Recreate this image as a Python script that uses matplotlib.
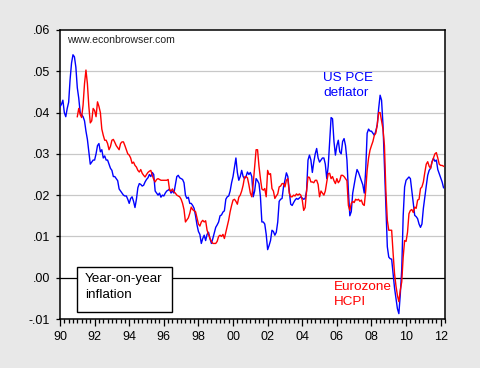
import numpy as np
import matplotlib.pyplot as plt
from matplotlib.patches import Rectangle
from matplotlib.ticker import FixedLocator, FuncFormatter

plt.rcParams['font.family'] = ['Liberation Sans', 'DejaVu Sans']

# US PCE deflator, year-on-year, monthly from Jan 1990
us_pce = [
    0.0414, 0.042, 0.043, 0.040, 0.039, 0.041, 0.0425, 0.048, 0.052, 0.054, 0.0535, 0.051,      # 1990
    0.046, 0.0435, 0.040, 0.0395, 0.039, 0.038, 0.0355, 0.0335, 0.0305, 0.0275, 0.028, 0.0285,  # 1991
    0.0285, 0.030, 0.032, 0.0325, 0.0305, 0.031, 0.029, 0.0295, 0.0285, 0.0285, 0.0275, 0.0265,  # 1992
    0.026, 0.0245, 0.0245, 0.024, 0.0235, 0.0215, 0.021, 0.0205, 0.020, 0.0198, 0.0198, 0.019,   # 1993
    0.018, 0.0192, 0.0196, 0.0185, 0.017, 0.019, 0.0218, 0.0228, 0.0226, 0.0222, 0.0224, 0.0232,  # 1994
    0.0238, 0.0242, 0.025, 0.0245, 0.0255, 0.025, 0.021, 0.0205, 0.020, 0.0205, 0.0195, 0.020,   # 1995
    0.0198, 0.0205, 0.021, 0.0212, 0.0215, 0.0205, 0.021, 0.0205, 0.0225, 0.0245, 0.0248, 0.0242,  # 1996
    0.024, 0.0238, 0.023, 0.020, 0.0192, 0.0195, 0.018, 0.018, 0.0175, 0.0168, 0.015, 0.0128,    # 1997
    0.0112, 0.0105, 0.0083, 0.0095, 0.0103, 0.009, 0.0105, 0.011, 0.0095, 0.0083, 0.0095, 0.0108,  # 1998
    0.0122, 0.0128, 0.0135, 0.015, 0.0152, 0.0159, 0.0162, 0.019, 0.0196, 0.0198, 0.021, 0.023,  # 1999
    0.0245, 0.0268, 0.029, 0.0255, 0.0236, 0.0245, 0.026, 0.0245, 0.024, 0.0245, 0.0256, 0.025,  # 2000
    0.0255, 0.0245, 0.0196, 0.021, 0.024, 0.0235, 0.0228, 0.0196, 0.0135, 0.0135, 0.013, 0.0105,  # 2001
    0.0068, 0.0078, 0.009, 0.0115, 0.0112, 0.0103, 0.011, 0.0135, 0.0185, 0.019, 0.0192, 0.022,  # 2002
    0.0236, 0.0254, 0.0245, 0.021, 0.0178, 0.0175, 0.0182, 0.0188, 0.0192, 0.019, 0.0193, 0.0196,  # 2003
    0.0193, 0.019, 0.0192, 0.021, 0.0285, 0.0297, 0.0285, 0.0255, 0.028, 0.030, 0.0313, 0.029,  # 2004
    0.028, 0.0285, 0.029, 0.029, 0.0275, 0.024, 0.027, 0.033, 0.0388, 0.0385, 0.033, 0.0297,    # 2005
    0.032, 0.0333, 0.0305, 0.030, 0.033, 0.0337, 0.032, 0.0285, 0.021, 0.015, 0.016, 0.0205,    # 2006
    0.0225, 0.0245, 0.0262, 0.0255, 0.0245, 0.0235, 0.0225, 0.0205, 0.026, 0.035, 0.036, 0.0355,  # 2007
    0.0355, 0.035, 0.0345, 0.0355, 0.037, 0.041, 0.0442, 0.043, 0.037, 0.027, 0.0165, 0.0075,   # 2008
    0.005, 0.0046, 0.0045, 0.001, -0.0025, -0.005, -0.0075, -0.0087, -0.004, 0.002, 0.015, 0.022,  # 2009
    0.0236, 0.024, 0.0244, 0.024, 0.021, 0.018, 0.0151, 0.0148, 0.0143, 0.013, 0.0122, 0.013,   # 2010
    0.0168, 0.0196, 0.0222, 0.0248, 0.026, 0.0265, 0.0281, 0.0289, 0.0282, 0.0285, 0.0262, 0.0252,  # 2011
    0.0242, 0.0232, 0.0218,                                                                       # 2012
]

# Eurozone HICP, year-on-year, monthly from Jan 1991
ez_hicp = [
    0.039, 0.041, 0.0395, 0.0388, 0.0418, 0.047, 0.0503, 0.047, 0.0415, 0.0375, 0.038, 0.041,   # 1991
    0.0405, 0.039, 0.0426, 0.0415, 0.040, 0.036, 0.0345, 0.0333, 0.0333, 0.0325, 0.031, 0.0318,  # 1992
    0.0333, 0.0335, 0.0328, 0.032, 0.0315, 0.031, 0.0325, 0.0329, 0.0329, 0.032, 0.031, 0.030,  # 1993
    0.0297, 0.029, 0.0277, 0.028, 0.0272, 0.0268, 0.026, 0.0256, 0.0262, 0.0253, 0.0248, 0.0244,  # 1994
    0.025, 0.0255, 0.0258, 0.026, 0.0248, 0.0238, 0.0232, 0.0238, 0.024, 0.0238, 0.0236, 0.0236,  # 1995
    0.0236, 0.0236, 0.0236, 0.0238, 0.0212, 0.021, 0.0215, 0.0208, 0.0205, 0.020, 0.0198, 0.0196,  # 1996
    0.019, 0.018, 0.0165, 0.0135, 0.014, 0.0145, 0.0156, 0.0171, 0.0165, 0.0162, 0.016, 0.0145,  # 1997
    0.013, 0.0125, 0.0135, 0.0139, 0.0135, 0.0138, 0.0115, 0.0105, 0.0095, 0.0088, 0.0083, 0.0083,  # 1998
    0.0083, 0.0088, 0.010, 0.0103, 0.010, 0.0105, 0.0095, 0.011, 0.0125, 0.014, 0.016, 0.0175,  # 1999
    0.0188, 0.019, 0.0185, 0.0178, 0.0195, 0.020, 0.021, 0.0224, 0.0244, 0.0245, 0.0242, 0.0225,  # 2000
    0.0205, 0.0196, 0.0228, 0.0268, 0.031, 0.031, 0.027, 0.024, 0.0215, 0.0212, 0.0216, 0.0196,  # 2001
    0.026, 0.025, 0.0252, 0.0216, 0.021, 0.0192, 0.0198, 0.0203, 0.022, 0.0222, 0.0228, 0.0228,  # 2002
    0.022, 0.0236, 0.024, 0.0205, 0.0196, 0.0196, 0.020, 0.0198, 0.0203, 0.020, 0.0203, 0.020,  # 2003
    0.0188, 0.0163, 0.017, 0.021, 0.0244, 0.0243, 0.0232, 0.0232, 0.023, 0.0236, 0.0236, 0.0226,  # 2004
    0.0196, 0.021, 0.0205, 0.020, 0.021, 0.0232, 0.0252, 0.0253, 0.024, 0.0245, 0.0235, 0.0228,  # 2005
    0.024, 0.023, 0.0235, 0.0248, 0.0248, 0.0245, 0.024, 0.0235, 0.0175, 0.0163, 0.018, 0.0185,  # 2006
    0.0182, 0.019, 0.0188, 0.019, 0.0185, 0.0188, 0.0178, 0.0175, 0.021, 0.026, 0.029, 0.0309,  # 2007
    0.032, 0.033, 0.0345, 0.035, 0.037, 0.040, 0.040, 0.038, 0.036, 0.032, 0.021, 0.0139,      # 2008
    0.0115, 0.0115, 0.0115, 0.006, 0.001, -0.002, -0.0043, -0.0058, -0.003, -0.001, 0.005, 0.009,  # 2009
    0.0088, 0.011, 0.0155, 0.0163, 0.0165, 0.0158, 0.0171, 0.0168, 0.0188, 0.019, 0.0216, 0.022,  # 2010
    0.0232, 0.0255, 0.0275, 0.0281, 0.027, 0.0265, 0.028, 0.029, 0.030, 0.0303, 0.029, 0.0275,  # 2011
    0.0272, 0.0272, 0.027,                                                                        # 2012
]

y_ticks = [-0.01, 0.0, 0.01, 0.02, 0.03, 0.04, 0.05, 0.06]
year_ticks = list(range(1990, 2013, 2))

t_us = 1990 + np.arange(len(us_pce)) / 12
t_ez = 1991 + np.arange(len(ez_hicp)) / 12

fig = plt.figure(figsize=(4.8, 3.68), dpi=100, facecolor='#e8e8e8')
ax = fig.add_axes([60/480, 49/368, 385/480, 289/368])
ax.set_facecolor('white')

# grid lines
for v in y_ticks[2:-1]:
    ax.axhline(v, color='#c8c8c8', lw=0.9, zorder=1)
ax.axhline(0, color='black', lw=0.9, zorder=2)

ax.plot(t_us, us_pce, color='#0000ff', lw=1.0, zorder=3)
ax.plot(t_ez, ez_hicp, color='#ff0000', lw=1.0, zorder=3)

ax.set_xlim(1990, 2012.25)
ax.set_ylim(-0.01, 0.06)

ax.set_yticks(y_ticks)
ax.yaxis.set_major_formatter(FuncFormatter(lambda v, p: f'{v:.2f}'.replace('0.', '.')))
ax.xaxis.set_major_locator(FixedLocator(year_ticks))
ax.xaxis.set_minor_locator(FixedLocator(np.arange(1990, 2012.3, 0.25)))
ax.xaxis.set_major_formatter(FuncFormatter(lambda v, p: f'{int(round(v)) % 100:02d}'))

ax.tick_params(axis='y', direction='out', length=3, width=0.9, labelsize=9, pad=4)
ax.tick_params(axis='x', which='major', direction='out', length=5, width=0.9, labelsize=9, pad=4)
ax.tick_params(axis='x', which='minor', direction='out', length=3, width=0.9)
for s in ax.spines.values():
    s.set_linewidth(1.1)
    s.set_color('black')

ax.text(0.0174, 0.965, 'www.econbrowser.com', transform=ax.transAxes, fontsize=7.6,
        va='center', ha='left', color='#222222')
ax.text(0.684, 0.856, 'US PCE\ndeflator', transform=ax.transAxes, fontsize=9.7,
        va='top', ha='left', color='#0000ff', linespacing=1.38)
ax.text(0.7125, 0.132, 'Eurozone\nHCPI', transform=ax.transAxes, fontsize=9.7,
        va='top', ha='left', color='#ff0000', linespacing=1.38, zorder=5)

ax.add_patch(Rectangle((0.045, 0.0232), 0.2468, 0.1557, transform=ax.transAxes,
                       fc='white', ec='black', lw=1.0, zorder=4))
ax.text(0.065, 0.1585, 'Year-on-year\ninflation', transform=ax.transAxes, fontsize=9.7,
        va='top', ha='left', color='black', linespacing=1.38, zorder=5)

fig.savefig('out.png', dpi=100, facecolor=fig.get_facecolor())
